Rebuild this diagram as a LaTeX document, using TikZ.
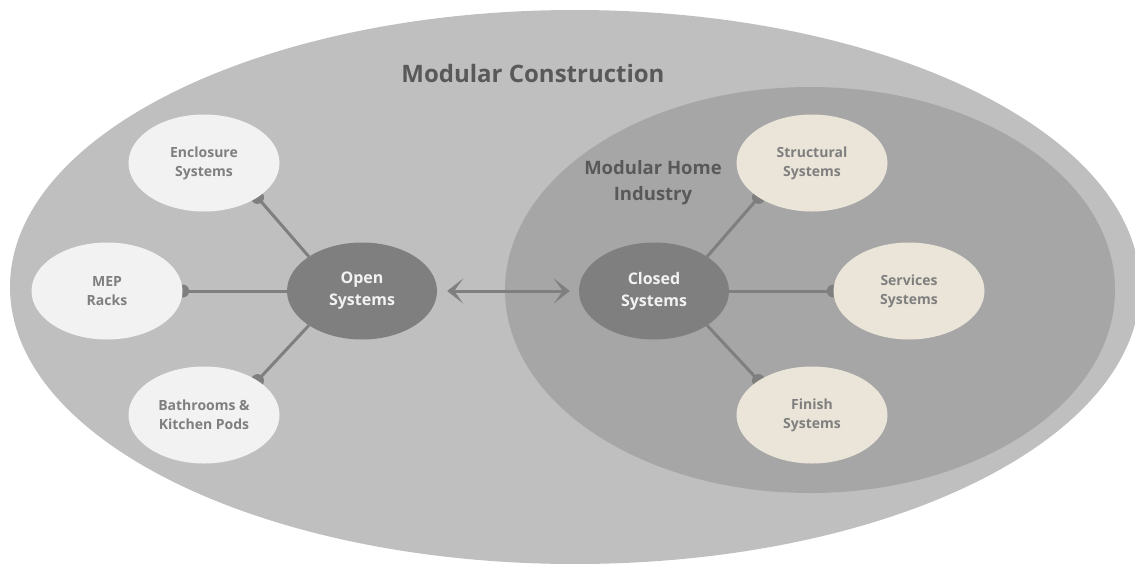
\documentclass[tikz,border=0pt]{standalone}
\usepackage{fontspec}
\setmainfont{Open Sans}
\usepackage{tikz}
\usetikzlibrary{arrows.meta, shapes.geometric}
\usepackage{xcolor}
\definecolor{outerG}{HTML}{BFBFBF}
\definecolor{innerG}{HTML}{A6A6A6}
\definecolor{hubG}{HTML}{7F7F7F}
\definecolor{satL}{HTML}{F2F2F2}
\definecolor{satB}{HTML}{EAE5D8}
\definecolor{txtG}{HTML}{7F7F7F}
\definecolor{titleG}{HTML}{595959}
\pgfdeclarelayer{back}
\pgfdeclarelayer{links}
\pgfsetlayers{back,links,main}
\tikzset{
  hub/.style={ellipse, fill=hubG, minimum width=150pt, minimum height=97pt, inner sep=0pt,
    align=center, text=satL, font=\fontsize{16}{22}\selectfont\bfseries},
  satleft/.style={ellipse, fill=satL, minimum width=151pt, minimum height=97pt, inner sep=0pt,
    align=center, text=txtG, font=\fontsize{14}{19}\selectfont\bfseries},
  satright/.style={satleft, fill=satB},
  link/.style={line width=3pt, hubG},
  dot/.style={fill=hubG}
}

\begin{document}
\begin{tikzpicture}[x=1pt, y=-1pt, >={Stealth[length=16pt, width=25pt, inset=9pt]}]
  \useasboundingbox (0, 0) rectangle (1135, 563);

  \begin{pgfonlayer}{back}
    \fill[outerG] (575, 287) ellipse [x radius=565, y radius=277];
    \fill[innerG] (810, 290) ellipse [x radius=305, y radius=203];
  \end{pgfonlayer}

  \node[anchor=base, text=titleG, font=\fontsize{24}{30}\selectfont\bfseries] (title) at (533, 82) {Modular Construction};
  \node[anchor=base, text=titleG, align=center, font=\fontsize{18.5}{26}\selectfont\bfseries] (mhi) at (653, 200) {Modular Home\\Industry};

  \node[hub] (open) at (362, 291) {Open\\Systems};
  \node[hub] (closed) at (654, 291) {Closed\\Systems};

  \node[satleft] (encl) at (204, 163) {Enclosure\\Systems};
  \node[satleft] (mep) at (107, 291) {MEP\\Racks};
  \node[satleft] (pods) at (204, 415) {Bathrooms \&\\Kitchen Pods};

  \node[satright] (struct) at (812, 163) {Structural\\Systems};
  \node[satright] (serv) at (909, 291) {Services\\Systems};
  \node[satright] (finish) at (812, 415) {Finish\\Systems};

  \begin{pgfonlayer}{links}
    \draw[link] (open.north west) -- (encl.south east);
    \draw[link] (open.west) -- (mep.east);
    \draw[link] (open.south west) -- (pods.north east);
    \draw[link] (closed.north east) -- (struct.south west);
    \draw[link] (closed.east) -- (serv.west);
    \draw[link] (closed.south east) -- (finish.north west);
    \foreach \s/\a in {encl/south east, mep/east, pods/north east, struct/south west, serv/west, finish/north west}
      \fill[dot] (\s.\a) circle (6.5pt);
  \end{pgfonlayer}

  \draw[<->, link, shorten <=10pt, shorten >=9pt] (open) -- (closed);
\end{tikzpicture}
\end{document}
